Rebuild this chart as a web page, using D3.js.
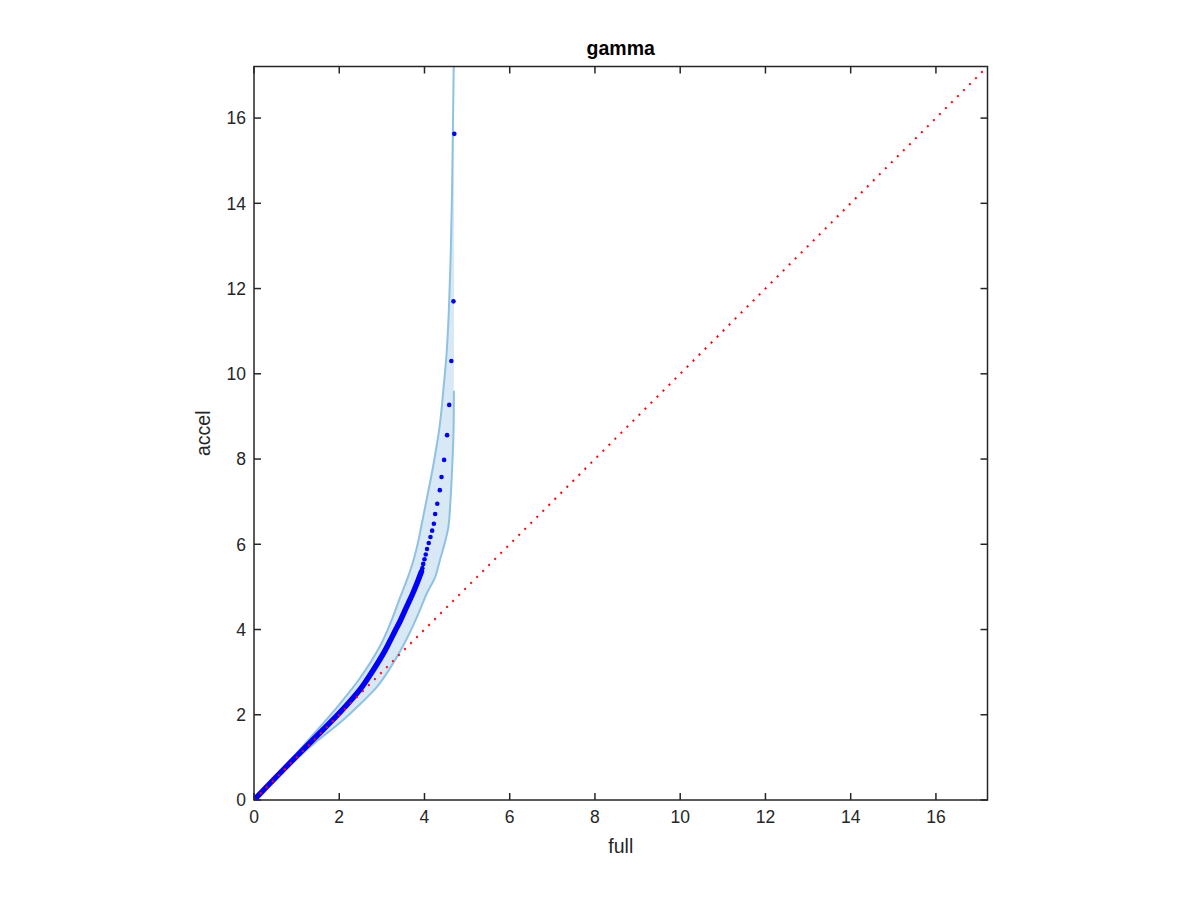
<!DOCTYPE html>
<html>
<head>
<meta charset="utf-8">
<script src="https://cdn.jsdelivr.net/npm/d3@7"></script>
<style>
  body { margin: 0; background: #fff; }
  svg { display: block; }
  text { font-family: "Liberation Sans", Arial, Helvetica, sans-serif; fill: #262626; }
</style>
</head>
<body>
<svg id="chart" width="1200" height="900"></svg>
<script>
// ---- data ----
const axisMax = 17.21;
const tickValues = [0, 2, 4, 6, 8, 10, 12, 14, 16];

// dense part of the quantile curve (full, accel)
const denseX = [0, 0.5, 1.0, 1.5, 2.0, 2.3, 2.53, 2.7, 2.88, 3.07, 3.19, 3.3, 3.43, 3.58, 3.74, 3.85, 3.93];
const denseY = [0, 0.52, 1.03, 1.53, 2.04, 2.37, 2.65, 2.9, 3.18, 3.5, 3.73, 3.95, 4.2, 4.53, 4.88, 5.15, 5.36];

// separate points in the tail
const tailX = [4.70, 4.68, 4.63, 4.58, 4.53, 4.46, 4.40, 4.36, 4.30, 4.25, 4.22, 4.18, 4.14, 4.10, 4.06, 4.03, 4.00, 3.97, 3.95];
const tailY = [15.63, 11.70, 10.30, 9.27, 8.56, 7.98, 7.58, 7.27, 6.95, 6.71, 6.48, 6.32, 6.17, 6.03, 5.89, 5.76, 5.65, 5.54, 5.44];

// confidence band, upper edge
const upperX = [0, 0.5, 1.0, 1.5, 2.0, 2.5, 2.96, 3.2, 3.43, 3.6, 3.74, 3.85, 3.93, 4.04, 4.15, 4.25, 4.36, 4.45, 4.52, 4.57, 4.62, 4.65, 4.67, 4.69];
const upperY = [0, 0.56, 1.1, 1.66, 2.24, 2.88, 3.62, 4.15, 4.76, 5.2, 5.62, 6.05, 6.45, 7.0, 7.55, 8.1, 8.8, 9.7, 10.5, 11.45, 13.0, 14.5, 16.0, 17.5];
// confidence band, lower edge
const lowerX = [0, 0.5, 1.0, 1.5, 2.0, 2.5, 2.88, 3.1, 3.3, 3.5, 3.7, 3.89, 4.05, 4.25, 4.36, 4.48, 4.56, 4.61, 4.65, 4.68, 4.69];
const lowerY = [0, 0.47, 0.96, 1.4, 1.8, 2.26, 2.65, 2.95, 3.27, 3.62, 4.02, 4.45, 4.84, 5.23, 5.62, 6.05, 6.4, 7.03, 7.81, 8.59, 9.6];

const titleText = "gamma";
const xLabel = "full";
const yLabel = "accel";

// ---- layout ----
const L = 254, T = 66.5, W = 733.5, H = 733.5;
const svg = d3.select("#chart");
const x = d3.scaleLinear().domain([0, axisMax]).range([L, L + W]);
const y = d3.scaleLinear().domain([0, axisMax]).range([T + H, T]);

svg.append("defs").append("clipPath").attr("id", "clip")
  .append("rect").attr("x", L).attr("y", T).attr("width", W).attr("height", H);

const g = svg.append("g").attr("clip-path", "url(#clip)");

const upper = upperX.map((v, i) => [v, upperY[i]]);
const lower = lowerX.map((v, i) => [v, lowerY[i]]);
const line = d3.line().x(d => x(d[0])).y(d => y(d[1])).curve(d3.curveCatmullRom.alpha(0.5));

// band fill
const poly = upper.concat(lower.slice().reverse());
g.append("path")
  .attr("d", d3.line().x(d => x(d[0])).y(d => y(d[1])).curve(d3.curveCatmullRom.alpha(0.5))(poly))
  .attr("fill", "#d8e8f4").attr("stroke", "none");

// band edges
[upper, lower].forEach(pts => {
  g.append("path").attr("d", line(pts))
    .attr("fill", "none").attr("stroke", "#8fc2e2").attr("stroke-width", 2);
});

// dense points drawn as a thick run of markers
const dense = denseX.map((v, i) => [v, denseY[i]]);
g.append("path").attr("d", line(dense))
  .attr("fill", "none").attr("stroke", "#0000ff").attr("stroke-width", 5.5)
  .attr("stroke-linecap", "round");
g.selectAll("circle.tail").data(tailX.map((v, i) => [v, tailY[i]]))
  .enter().append("circle").attr("class", "tail")
  .attr("cx", d => x(d[0])).attr("cy", d => y(d[1])).attr("r", 2.3)
  .attr("fill", "#0000ff");

// diagonal reference line (drawn on top)
g.append("path")
  .attr("d", d3.line().x(d => x(d[0])).y(d => y(d[1]))([[0, 0], [axisMax, axisMax]]))
  .attr("stroke", "#ff0000").attr("stroke-width", 2)
  .attr("stroke-dasharray", "2,6.5").attr("fill", "none");

// ---- axes ----
const axisColor = "#262626";
const tickLen = 7;
const ax = svg.append("g");
ax.append("rect").attr("x", L).attr("y", T).attr("width", W).attr("height", H)
  .attr("fill", "none").attr("stroke", axisColor).attr("stroke-width", 1.5);

tickValues.forEach(t => {
  const px = x(t), py = y(t);
  ax.append("line").attr("x1", px).attr("x2", px).attr("y1", T + H).attr("y2", T + H - tickLen)
    .attr("stroke", axisColor).attr("stroke-width", 1.5);
  ax.append("line").attr("x1", px).attr("x2", px).attr("y1", T).attr("y2", T + tickLen)
    .attr("stroke", axisColor).attr("stroke-width", 1.5);
  ax.append("line").attr("y1", py).attr("y2", py).attr("x1", L).attr("x2", L + tickLen)
    .attr("stroke", axisColor).attr("stroke-width", 1.5);
  ax.append("line").attr("y1", py).attr("y2", py).attr("x1", L + W).attr("x2", L + W - tickLen)
    .attr("stroke", axisColor).attr("stroke-width", 1.5);
  ax.append("text").attr("x", px).attr("y", T + H + 23).attr("text-anchor", "middle")
    .attr("font-size", 17.5).text(t);
  ax.append("text").attr("x", L - 8).attr("y", py + 6.3).attr("text-anchor", "end")
    .attr("font-size", 17.5).text(t);
});

svg.append("text").attr("x", L + W / 2).attr("y", 55).attr("text-anchor", "middle")
  .attr("font-size", 19.5).attr("font-weight", "bold").style("fill", "#000").text(titleText);
svg.append("text").attr("x", L + W / 2).attr("y", 853).attr("text-anchor", "middle")
  .attr("font-size", 19.5).text(xLabel);
svg.append("text").attr("transform", `translate(210, ${T + H / 2}) rotate(-90)`)
  .attr("text-anchor", "middle").attr("font-size", 19.5).text(yLabel);
</script>
</body>
</html>
